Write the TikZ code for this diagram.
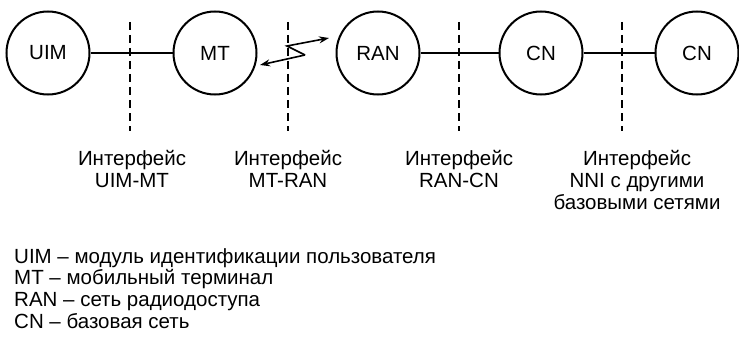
\documentclass[tikz,border=0pt]{standalone}
\usepackage{fontspec}
\setmainfont{Liberation Sans}
\usepackage{tikz}
\usetikzlibrary{arrows.meta}

\begin{document}
\begin{tikzpicture}[x=1pt,y=-1pt,font=\fontsize{20.5}{21.8}\selectfont,
unit/.style={circle,draw,line width=2pt,minimum size=83pt,inner sep=0pt},
border/.style={line width=1.8pt,dash pattern=on 8pt off 5pt},
link/.style={line width=1.6pt},
iface/.style={align=center,anchor=north,inner sep=0pt}]
\useasboundingbox(0,0)rectangle(739,345);
\node[unit](uim)at(48,53){UIM};
\node[unit](mt)at(215,53){MT};
\node[unit](ran)at(378,53){RAN};
\node[unit](cn)at(541,53){CN};
\node[unit](cnb)at(697,53){CN};
\draw[link](uim)--(mt);
\draw[link](ran)--(cn);
\draw[link](cn)--(cnb);
% radio link
\coordinate(za)at(305,55);
\coordinate(zb)at(287,46);
\coordinate(ztip)at(260,65);
\coordinate(ztipb)at(329,38);
\draw[link,-{Stealth[length=10pt,width=7pt]}](za)--(ztip);
\draw[link,-{Stealth[length=10pt,width=7pt]}](za)--(zb)--(ztipb);
% interfaces
\foreach \x/\n in {130/a,288/b,459/c,622/d}{
\coordinate(\n top)at(\x,22);
\coordinate(\n bot)at(\x,131);
\draw[border](\n top)--(\n bot);}
\node[iface](la)at(132,150){Интерфейс\\UIM-MT};
\node[iface](lb)at(288,150){Интерфейс\\MT-RAN};
\node[iface](lc)at(459,150){Интерфейс\\RAN-CN};
\node[iface](ld)at(637,150){Интерфейс\\NNI с другими\\базовыми сетями};
\node[anchor=north west,align=left,inner sep=0pt](legend)at(14,248){UIM -- модуль идентификации пользователя\\
MT -- мобильный терминал\\
RAN -- сеть радиодоступа\\
CN -- базовая сеть};
\end{tikzpicture}
\end{document}
